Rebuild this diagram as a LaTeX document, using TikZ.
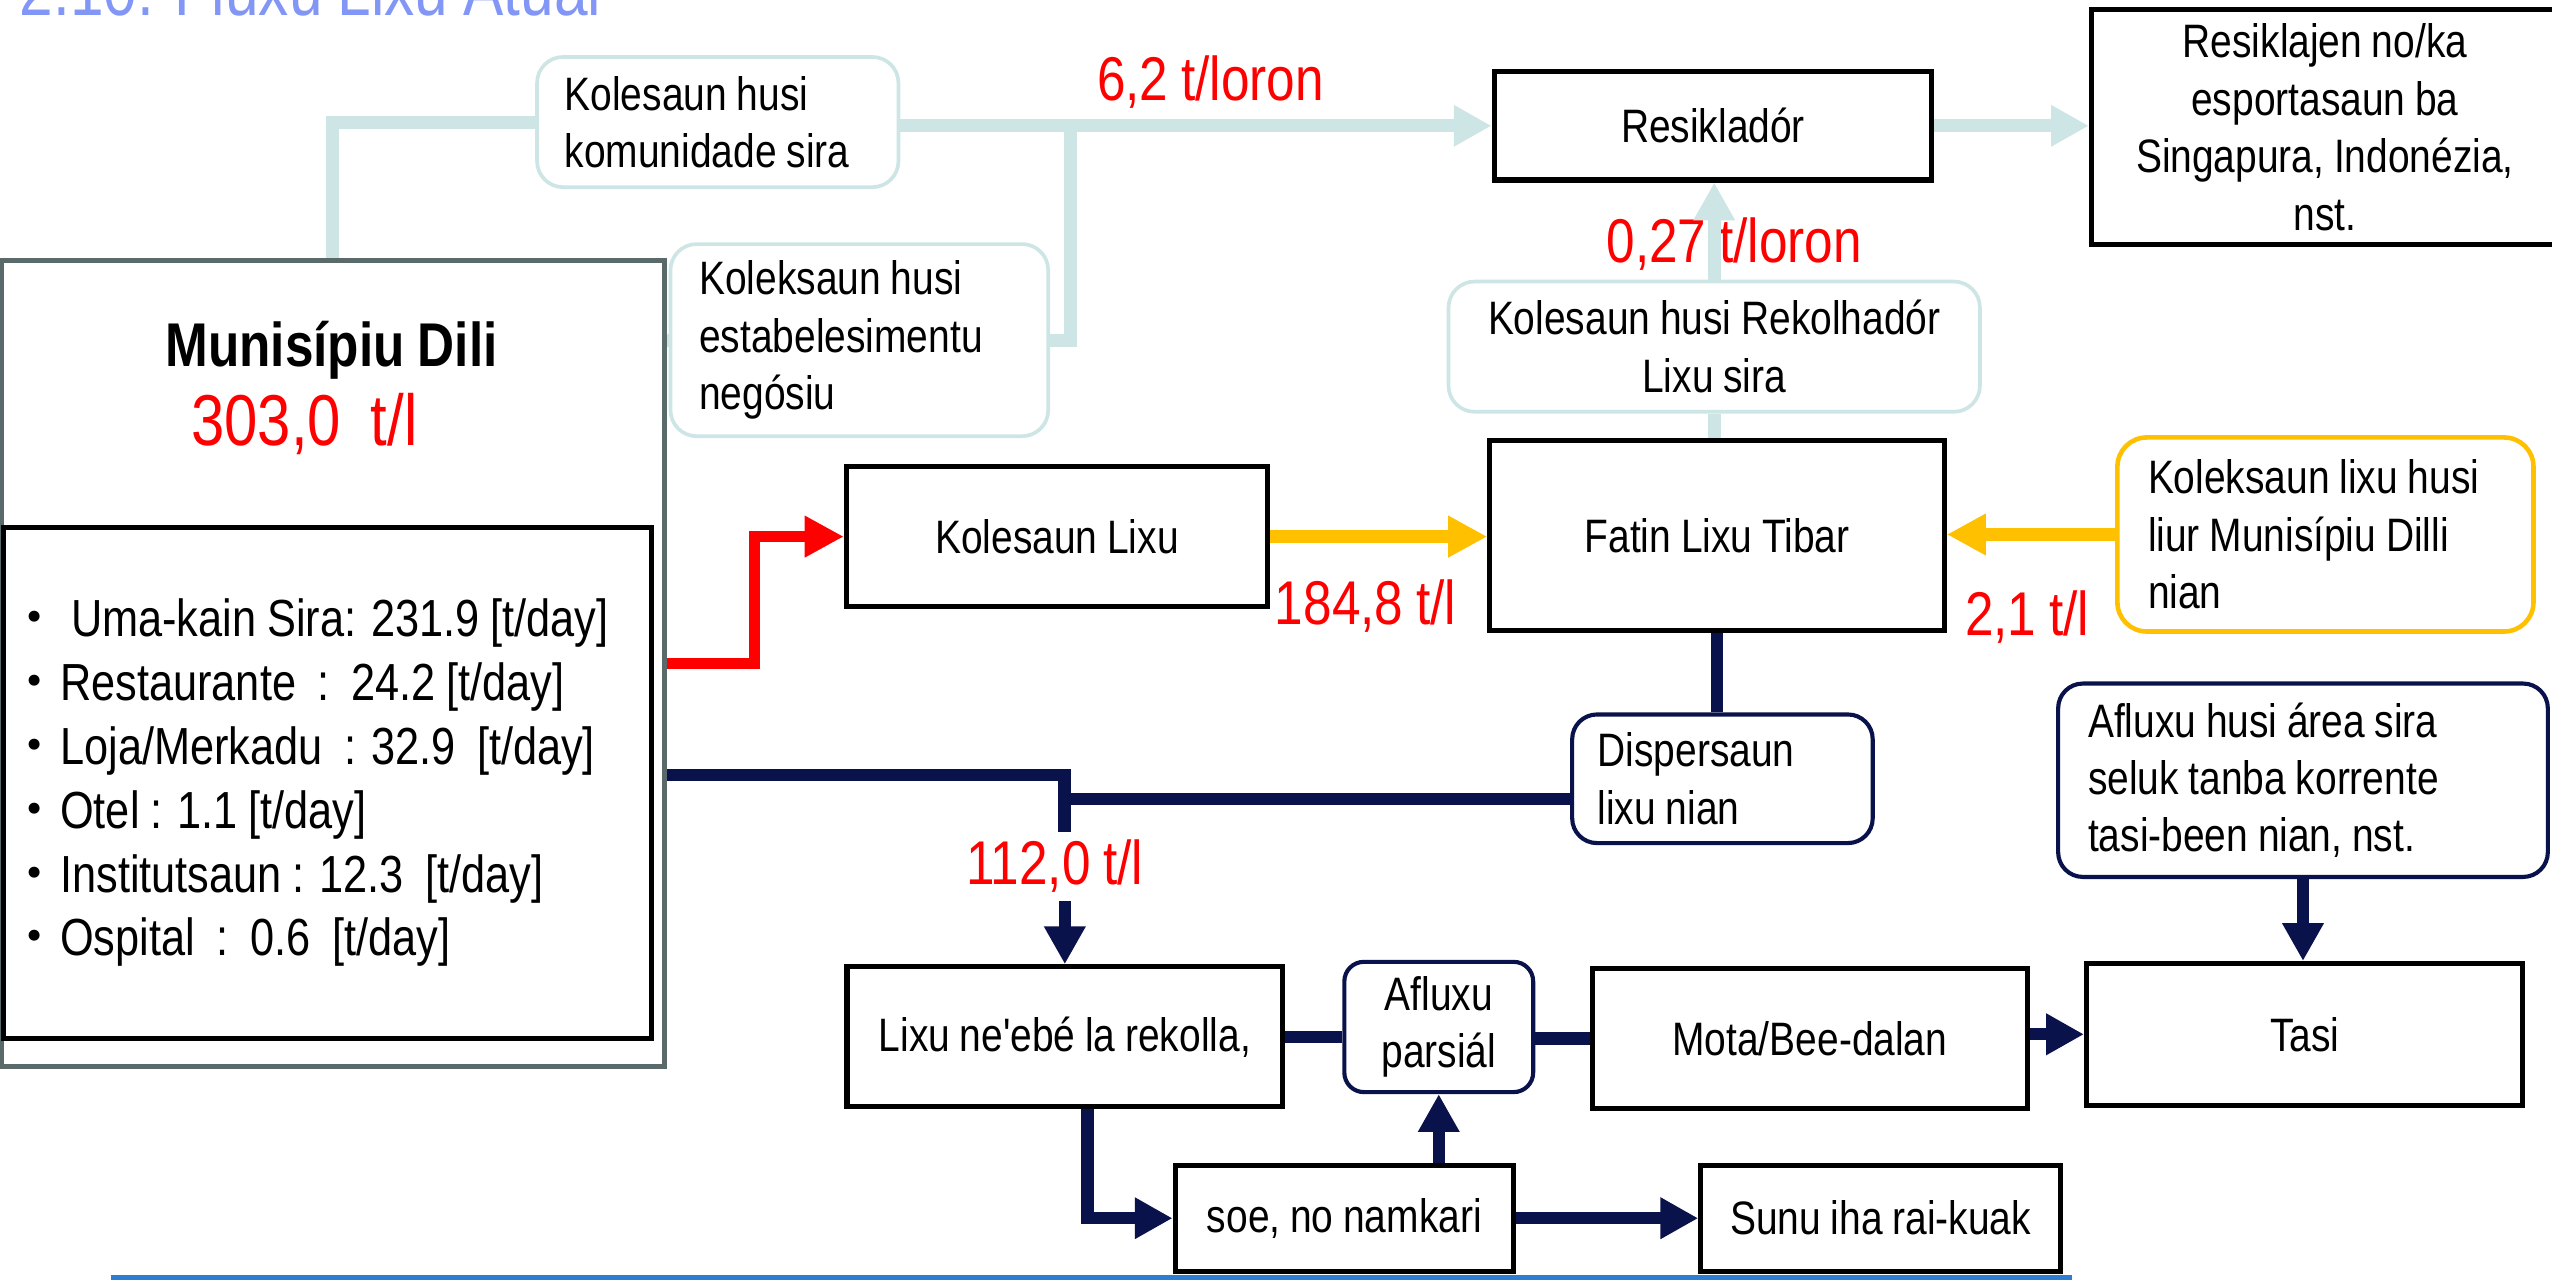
\documentclass[tikz,border=0pt]{standalone}
\usepackage{fontspec}
\setmainfont{Liberation Sans}[FakeStretch=0.83, WordSpace=0.9, Ligatures=TeXOff]
\newfontfamily\jpfont{Noto Sans CJK JP}
\usetikzlibrary{arrows.meta}
\definecolor{tealc}{RGB}{205,230,229}
\definecolor{navyc}{RGB}{10,18,75}
\definecolor{yellowc}{RGB}{255,192,0}
\definecolor{redc}{RGB}{255,0,0}
\definecolor{grayc}{RGB}{90,105,105}
\definecolor{titlec}{RGB}{130,150,245}
\definecolor{bluec}{RGB}{45,125,210}
\newcommand{\bxfont}{\fontsize{20.5}{25.1}\selectfont}
\newcommand{\numfont}{\fontsize{27}{30}\selectfont}
\newcommand{\listfont}{\fontsize{22.8}{27.9}\selectfont}
\tikzstyle{box} = [draw=black, line width=2.2pt, fill=white, inner sep=0pt, font=\bxfont, align=center]
\tikzstyle{tbox} = [draw=tealc, line width=1.6pt, rounded corners=0.4cm, fill=white, font=\bxfont]
\tikzstyle{nbox} = [draw=navyc, line width=1.8pt, rounded corners=0.38cm, fill=white, font=\bxfont]
\tikzstyle{ybox} = [draw=yellowc, line width=2pt, rounded corners=0.45cm, fill=white, font=\bxfont]
\tikzstyle{outerbox} = [draw=grayc, line width=2.2pt, fill=white]
\tikzstyle{num} = [text=redc, font=\numfont, anchor=base]
\tikzstyle{tealflow} = [draw=tealc, line width=0.2cm]
\tikzstyle{tealarrow} = [tealflow, -{Triangle[length=0.58cm,width=0.6cm]}]
\tikzstyle{redarrow} = [draw=redc, line width=0.175cm, -{Triangle[length=0.6cm,width=0.6cm]}]
\tikzstyle{yelarrow} = [draw=yellowc, line width=0.2cm, -{Triangle[length=0.6cm,width=0.6cm]}]
\tikzstyle{navyflow} = [draw=navyc, line width=0.19cm]
\tikzstyle{navyarrow} = [navyflow, -{Triangle[length=0.58cm,width=0.6cm]}]

\begin{document}
\begin{tikzpicture}[x=0.025cm, y=-0.025cm]
\useasboundingbox (0,0) rectangle (1568,786);
\clip (0,0) rectangle (1568,786);

\node[anchor=base west, inner sep=0pt, text=titlec, font=\fontsize{31.8}{34}\selectfont] (title) at (12,9.6) {2.10. Fluxu Lixu Atual};

% municipality block
\node[outerbox, minimum width=10.175cm, minimum height=12.375cm] (muni) at (204.5,407.5) {};
\node[anchor=base, font=\bfseries\fontsize{27}{30}\selectfont] (muniname) at (203.7,225) {Munisípiu Dili};
\node[num, font=\fontsize{31.5}{34}\selectfont] (munitotal) at (187,274) {303,0~ t/l};
\node[box, minimum width=9.95cm, minimum height=7.85cm, text width=9.8cm, align=flush left, inner xsep=0.075cm, font=\listfont] (srcs) at (201,481) {%
{\jpfont ・}\ Uma-kain Sira: 231.9 [t/day]\\
{\jpfont ・}Restaurante\ \ :\ \ 24.2 [t/day]\\
{\jpfont ・}Loja/Merkadu\ \ : 32.9\ \ [t/day]\\
{\jpfont ・}Otel : 1.1 [t/day]\\
{\jpfont ・}Institutsaun : 12.3\ \ [t/day]\\
{\jpfont ・}Ospital\ \ :\ \ 0.6\ \ [t/day]};

% boxes
\node[tbox, minimum width=5.55cm, minimum height=2cm, text width=4.7cm, align=flush left, inner xsep=0.425cm] (k1) at (441,75) {Kolesaun husi\\komunidade sira};
\node[tbox, minimum width=5.8cm, minimum height=2.95cm, text width=4.92cm, align=flush left, inner xsep=0.44cm] (k2) at (528,209) {Koleksaun husi\\estabelesimentu\\negósiu};
\node[box, minimum width=6.725cm, minimum height=1.665cm] (resik) at (1052.5,77.3) {Resikladór};
\node[box, minimum width=7.175cm, minimum height=3.6125cm] (rsj) at (1428.5,78.25) {Resiklajen no/ka\\esportasaun ba\\Singapura, Indonézia,\\nst.};
\node[tbox, minimum width=8.16cm, minimum height=2cm, align=center] (rek) at (1053.25,213) {Kolesaun husi Rekolhadór\\Lixu sira};
\node[box, minimum width=6.98cm, minimum height=2.905cm] (fatin) at (1055,329) {Fatin Lixu Tibar};
\node[box, minimum width=6.47cm, minimum height=2.15cm] (kol) at (649.4,329.7) {Kolesaun Lixu};
\node[ybox, minimum width=6.39cm, minimum height=2.98cm, text width=5.45cm, align=flush left, inner xsep=0.47cm] (yb) at (1428.8,328.4) {Koleksaun lixu husi\\liur Munisípiu Dilli\\nian};
\node[nbox, minimum width=4.615cm, minimum height=1.975cm, text width=3.835cm, align=flush left, inner xsep=0.39cm] (disp) at (1058.3,478.5) {Dispersaun\\lixu nian};
\node[nbox, minimum width=7.52cm, minimum height=2.97cm, text width=6.6cm, align=flush left, inner xsep=0.46cm] (afl2) at (1415,479.4) {Afluxu husi área sira\\seluk tanba korrente\\tasi-been nian, nst.};
\node[box, minimum width=6.69cm, minimum height=2.15cm] (lixu) at (654.25,637) {Lixu ne'ebé la rekolla,};
\node[nbox, minimum width=2.9cm, minimum height=2cm, rounded corners=0.3cm, align=center, inner sep=0pt] (afl) at (884,631) {Afluxu\\parsiál};
\node[box, minimum width=6.67cm, minimum height=2.15cm] (mota) at (1112,638) {Mota/Bee-dalan};
\node[box, minimum width=6.7cm, minimum height=2.175cm] (tasi) at (1416,635.5) {Tasi};
\node[box, minimum width=5.2cm, minimum height=1.625cm] (soe) at (826,748.5) {soe, no namkari};
\node[box, minimum width=5.525cm, minimum height=1.625cm] (sunu) at (1155.5,748.5) {Sunu iha rai-kuak};

% amounts
\node[num] (n62) at (743.7,61.5) {6,2 t/loron};
\node[num] (n027) at (1065.5,161) {0,27 t/loron};
\node[num] (n1848) at (839,384) {184,8 t/l};
\node[num] (n21) at (1245.5,390.5) {2,1 t/l};
\node[num] (n112) at (648,543.7) {112,0 t/l};

\coordinate (j0) at (658,77.3);
\coordinate (r1) at (463.5,407.5);
\coordinate (j1) at (654,476);
\coordinate (j2) at (654,491);

% flows
\draw[tealflow] (muni.north) |- (k1.west);
\draw[tealarrow] (k1.east |- resik.west) -- (resik.west);
\draw[tealflow] (k2.east) -| (j0);
\draw[tealflow] (muni.east |- k2.west) -- (k2.west);
\draw[tealarrow] (resik.east) -- (resik.east -| rsj.west);
\draw[tealarrow] (rek.north) -- (rek.north |- resik.south);
\draw[tealflow] (rek.south) -- (rek.south |- fatin.north);

\draw[redarrow] (muni.east) -- (r1) |- (kol.west);
\draw[yelarrow] (kol.east) -- (kol.east -| fatin.west);
\draw[yelarrow] (yb.west) -- (yb.west -| fatin.east);

\draw[navyflow] (fatin.south) -- (fatin.south |- disp.north);
\draw[navyflow] (muni.east |- j1) -- (j1) -- (j1 |- n112.north);
\draw[navyflow] (disp.west |- j2) -- (j2);
\draw[navyarrow] (lixu.north |- n112.south) -- (lixu.north);
\draw[navyflow] (lixu.east) -- (lixu.east -| afl.west);
\draw[navyflow] (afl.east |- mota.west) -- (mota.west);
\draw[navyarrow] (mota.east |- tasi.west) -- (tasi.west);
\draw[navyarrow] (afl2.south) -- (afl2.south |- tasi.north);
\draw[navyarrow] ([xshift=0.35cm]lixu.south) |- (soe.west);
\draw[navyarrow] (afl.south |- soe.north) -- (afl.south);
\draw[navyarrow] (soe.east) -- (sunu.west);

\draw[bluec, line width=0.07cm] (68,785) -- (1273,785);
\end{tikzpicture}
\end{document}
